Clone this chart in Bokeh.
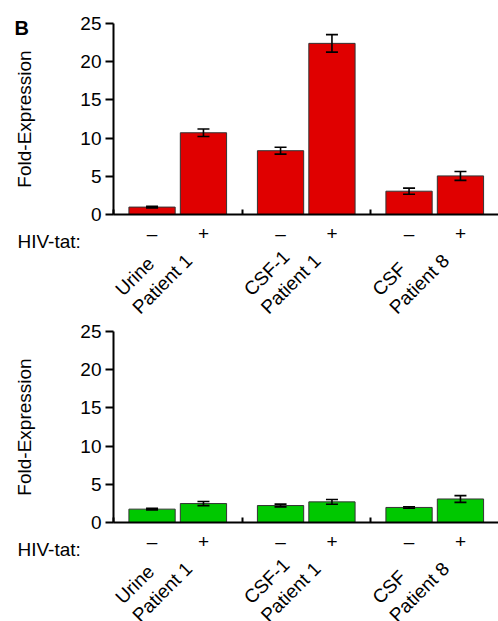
import math
from bokeh.plotting import figure
from bokeh.models import ColumnDataSource, Range1d, FixedTicker, Whisker, TeeHead
from bokeh.core.properties import value
from bokeh.layouts import column
from bokeh.embed import file_html
from bokeh.resources import INLINE

# ---------------- data ----------------
group_line1 = ["Urine", "CSF-1", "CSF"]
group_line2 = ["Patient 1", "Patient 1", "Patient 8"]
treatment = ["\u2013", "+"]
y_ticks = [0, 5, 10, 15, 20, 25]

top_values = [0.97, 10.7, 8.35, 22.4, 3.05, 5.05]
top_errors = [0.1, 0.5, 0.45, 1.15, 0.4, 0.58]

bottom_values = [1.75, 2.48, 2.22, 2.7, 1.97, 3.08]
bottom_errors = [0.1, 0.27, 0.18, 0.32, 0.1, 0.44]

# ---------------- style / layout ----------------
FONT = "Liberation Sans"
FS = "19px"
GROUP_W = 10
BAR_POS = [3, 7]
BAR_W = 3.6
RED = "#e00000"
GREEN = "#00c800"
FIG_W = 498
X0_PX = 113        # pixel position of x = 0
X_SCALE = 12.85    # pixels per x unit
Y_SCALE = 7.64     # pixels per y unit


def make_panel(values, errors, color, height, y0_px, letter=None):
    n_groups = len(group_line1)
    xs, upper, lower, labels = [], [], [], {}
    for g in range(n_groups):
        for k in range(len(treatment)):
            i = g * len(treatment) + k
            x = g * GROUP_W + BAR_POS[k]
            xs.append(x)
            upper.append(values[i] + errors[i])
            lower.append(values[i] - errors[i])
            labels[x] = treatment[k]
    src = ColumnDataSource(dict(x=xs, top=values, upper=upper, lower=lower))

    p = figure(width=FIG_W, height=height,
               x_range=Range1d(-X0_PX / X_SCALE, (FIG_W - X0_PX) / X_SCALE),
               y_range=Range1d(-(height - y0_px) / Y_SCALE, y0_px / Y_SCALE),
               output_backend="svg", toolbar_location=None,
               min_border_left=0, min_border_right=0,
               min_border_top=0, min_border_bottom=0)
    p.outline_line_color = None
    p.grid.visible = False
    p.background_fill_color = "white"
    p.border_fill_color = "white"

    p.vbar(x="x", top="top", bottom=0, width=BAR_W, source=src,
           fill_color=color, line_color="#333333", line_width=1)
    w = Whisker(base="x", upper="upper", lower="lower", source=src,
                line_color="black", line_width=1.6, level="overlay",
                upper_head=TeeHead(size=12, line_color="black", line_width=1.6),
                lower_head=TeeHead(size=12, line_color="black", line_width=1.6))
    p.add_layout(w)

    ya = p.yaxis[0]
    ya.fixed_location = 0
    ya.bounds = (y_ticks[0], y_ticks[-1])
    ya.ticker = FixedTicker(ticks=y_ticks)
    ya.major_tick_out = 8
    ya.major_tick_in = 0
    ya.minor_tick_line_color = None
    ya.axis_line_width = 2
    ya.major_tick_line_width = 2
    ya.major_label_text_font = FONT
    ya.major_label_text_font_size = FS
    ya.major_label_text_color = "black"
    ya.major_label_standoff = 4
    ya.axis_label = "Fold-Expression"
    ya.axis_label_text_font = FONT
    ya.axis_label_text_font_size = FS
    ya.axis_label_text_font_style = "normal"
    ya.axis_label_text_color = "black"
    ya.axis_label_standoff = 42

    xa = p.xaxis[0]
    xa.fixed_location = 0
    xa.bounds = (0, n_groups * GROUP_W)
    xa.ticker = FixedTicker(ticks=xs, minor_ticks=[g * GROUP_W for g in range(n_groups + 1)])
    xa.major_label_overrides = labels
    xa.major_tick_line_color = None
    xa.major_tick_in = 0
    xa.major_tick_out = 0
    xa.minor_tick_in = 5
    xa.minor_tick_out = 0
    xa.minor_tick_line_width = 2
    xa.axis_line_width = 2
    xa.major_label_text_font = FONT
    xa.major_label_text_font_size = FS
    xa.major_label_text_color = "black"
    xa.major_label_standoff = 8

    centers = [g * GROUP_W + GROUP_W / 2 for g in range(n_groups)]
    zeros = [0] * n_groups
    common = dict(angle=math.pi / 4, text_align="left", text_baseline="alphabetic",
                  text_font=value(FONT), text_font_size=FS, text_color="black")
    p.text(x=centers, y=zeros, text=group_line1, x_offset=-59, y_offset=78, **common)
    p.text(x=centers, y=zeros, text=group_line2, x_offset=-42, y_offset=96, **common)

    p.text(x=[0], y=[0], text=["HIV-tat:"], x_offset=-96, y_offset=27,
           text_align="left", text_baseline="alphabetic",
           text_font=value(FONT), text_font_size=FS, text_color="black")
    if letter:
        p.text(x=[0], y=[y_ticks[-1]], text=[letter], x_offset=-99, y_offset=4,
               text_align="left", text_baseline="alphabetic",
               text_font=value(FONT), text_font_size="20px",
               text_font_style="bold", text_color="black")
    return p


top = make_panel(top_values, top_errors, RED, 320, 214, letter="B")
bottom = make_panel(bottom_values, bottom_errors, GREEN, 301, 202)

layout = column(top, bottom, spacing=0)
open("out.html", "w").write(file_html(layout, INLINE))
